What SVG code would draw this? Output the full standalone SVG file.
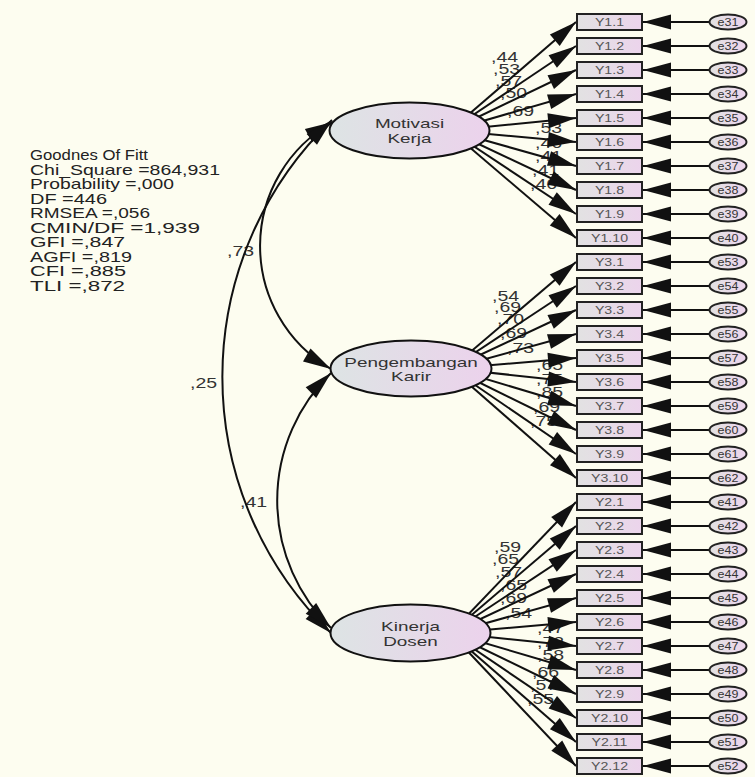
<svg xmlns="http://www.w3.org/2000/svg" width="755" height="777" viewBox="0 0 755 777">
<defs>
<linearGradient id="gBox" x1="0" y1="0" x2="1" y2="0">
<stop offset="0" stop-color="#e2e2e2"/><stop offset="1" stop-color="#ecd4ec"/>
</linearGradient>
<linearGradient id="gLat" x1="0" y1="0" x2="1" y2="0">
<stop offset="0" stop-color="#dde4e4"/><stop offset="1" stop-color="#ecd2ec"/>
</linearGradient>
<marker id="ah" markerUnits="userSpaceOnUse" markerWidth="30" markerHeight="16" refX="28" refY="7.5" orient="auto-start-reverse" overflow="visible">
<path d="M0,0 L28,7.5 L0,15 z" fill="#111"/>
</marker>
<style>
.ln{stroke:#111;stroke-width:2;fill:none;marker-end:url(#ah)}
.arc{stroke:#111;stroke-width:2;fill:none;marker-start:url(#ah);marker-end:url(#ah)}
.box{fill:url(#gBox);stroke:#222;stroke-width:2}
.err{fill:url(#gBox);stroke:#222;stroke-width:2}
.lat{fill:url(#gLat);stroke:#111;stroke-width:2}
text{font-family:'Liberation Sans',Arial,sans-serif}
.bt{font-size:10.5px;fill:#555;text-anchor:middle}
.et{font-size:10px;fill:#333;text-anchor:middle}
.lt{font-size:13.5px;fill:#333;text-anchor:middle}
.lb{font-size:15px;fill:#333}
.gof{font-size:15px;fill:#222}
</style>
</defs>
<rect width="755" height="777" fill="#fdfdf0"/>

<g id="fit-stats">
<text class="gof" x="30" y="160" textLength="118" lengthAdjust="spacingAndGlyphs">Goodnes Of Fitt</text>
<text class="gof" x="30" y="174.5" textLength="190" lengthAdjust="spacingAndGlyphs">Chi_Square =864,931</text>
<text class="gof" x="30" y="189" textLength="144" lengthAdjust="spacingAndGlyphs">Probability =,000</text>
<text class="gof" x="30" y="203.5" textLength="77" lengthAdjust="spacingAndGlyphs">DF =446</text>
<text class="gof" x="30" y="218" textLength="120" lengthAdjust="spacingAndGlyphs">RMSEA =,056</text>
<text class="gof" x="30" y="232.5" textLength="170" lengthAdjust="spacingAndGlyphs">CMIN/DF =1,939</text>
<text class="gof" x="30" y="247" textLength="95" lengthAdjust="spacingAndGlyphs">GFI =,847</text>
<text class="gof" x="30" y="261.5" textLength="102" lengthAdjust="spacingAndGlyphs">AGFI =,819</text>
<text class="gof" x="30" y="276" textLength="96" lengthAdjust="spacingAndGlyphs">CFI =,885</text>
<text class="gof" x="30" y="290.5" textLength="95" lengthAdjust="spacingAndGlyphs">TLI =,872</text>
</g>

<g id="labels">
<text class="lb" transform="translate(227,256) scale(1.3,1)">,73</text>
<text class="lb" transform="translate(190,388) scale(1.3,1)">,25</text>
<text class="lb" transform="translate(240,507) scale(1.3,1)">,41</text>
<text class="lb" transform="translate(491,62) scale(1.3,1)">,44</text>
<text class="lb" transform="translate(493,74) scale(1.3,1)">,53</text>
<text class="lb" transform="translate(495,86) scale(1.3,1)">,57</text>
<text class="lb" transform="translate(500,98) scale(1.3,1)">,50</text>
<text class="lb" transform="translate(507,116) scale(1.3,1)">,69</text>
<text class="lb" transform="translate(535,133) scale(1.3,1)">,53</text>
<text class="lb" transform="translate(535,148) scale(1.3,1)">,46</text>
<text class="lb" transform="translate(535,161) scale(1.3,1)">,41</text>
<text class="lb" transform="translate(532,175) scale(1.3,1)">,41</text>
<text class="lb" transform="translate(530,189) scale(1.3,1)">,46</text>
<text class="lb" transform="translate(492,301) scale(1.3,1)">,54</text>
<text class="lb" transform="translate(494,312) scale(1.3,1)">,69</text>
<text class="lb" transform="translate(497,324) scale(1.3,1)">,70</text>
<text class="lb" transform="translate(500,338) scale(1.3,1)">,69</text>
<text class="lb" transform="translate(507,353) scale(1.3,1)">,73</text>
<text class="lb" transform="translate(536,370) scale(1.3,1)">,65</text>
<text class="lb" transform="translate(536,384) scale(1.3,1)">,75</text>
<text class="lb" transform="translate(536,397) scale(1.3,1)">,85</text>
<text class="lb" transform="translate(533,412) scale(1.3,1)">,69</text>
<text class="lb" transform="translate(530,426) scale(1.3,1)">,75</text>
<text class="lb" transform="translate(494,552) scale(1.3,1)">,59</text>
<text class="lb" transform="translate(492,564) scale(1.3,1)">,65</text>
<text class="lb" transform="translate(495,577) scale(1.3,1)">,57</text>
<text class="lb" transform="translate(500,590) scale(1.3,1)">,65</text>
<text class="lb" transform="translate(500,603) scale(1.3,1)">,69</text>
<text class="lb" transform="translate(505,618) scale(1.3,1)">,54</text>
<text class="lb" transform="translate(537,633) scale(1.3,1)">,47</text>
<text class="lb" transform="translate(537,647) scale(1.3,1)">,72</text>
<text class="lb" transform="translate(537,660) scale(1.3,1)">,58</text>
<text class="lb" transform="translate(532,677) scale(1.3,1)">,66</text>
<text class="lb" transform="translate(530,690) scale(1.3,1)">,57</text>
<text class="lb" transform="translate(527,704) scale(1.3,1)">,55</text>
</g>

<g id="connectors">
<path class="arc" d="M333,122 A142,142 0 0 0 331,369"/>
<path class="arc" d="M332,120 A356,356 0 0 0 331,633"/>
<path class="arc" d="M331,373 A178,178 0 0 0 331,628"/>
<path class="ln" d="M450,130.5 L576,22"/>
<path class="ln" d="M450,130.5 L576,46"/>
<path class="ln" d="M450,130.5 L576,70"/>
<path class="ln" d="M450,130.5 L576,94"/>
<path class="ln" d="M450,130.5 L576,118"/>
<path class="ln" d="M450,130.5 L576,142"/>
<path class="ln" d="M450,130.5 L576,166"/>
<path class="ln" d="M450,130.5 L576,190"/>
<path class="ln" d="M450,130.5 L576,214"/>
<path class="ln" d="M450,130.5 L576,238"/>
<path class="ln" d="M451,368.5 L576,262"/>
<path class="ln" d="M451,368.5 L576,286"/>
<path class="ln" d="M451,368.5 L576,310"/>
<path class="ln" d="M451,368.5 L576,334"/>
<path class="ln" d="M451,368.5 L576,358"/>
<path class="ln" d="M451,368.5 L576,382"/>
<path class="ln" d="M451,368.5 L576,406"/>
<path class="ln" d="M451,368.5 L576,430"/>
<path class="ln" d="M451,368.5 L576,454"/>
<path class="ln" d="M451,368.5 L576,478"/>
<path class="ln" d="M450.5,633 L576,502"/>
<path class="ln" d="M450.5,633 L576,526"/>
<path class="ln" d="M450.5,633 L576,550"/>
<path class="ln" d="M450.5,633 L576,574"/>
<path class="ln" d="M450.5,633 L576,598"/>
<path class="ln" d="M450.5,633 L576,622"/>
<path class="ln" d="M450.5,633 L576,646"/>
<path class="ln" d="M450.5,633 L576,670"/>
<path class="ln" d="M450.5,633 L576,694"/>
<path class="ln" d="M450.5,633 L576,718"/>
<path class="ln" d="M450.5,633 L576,742"/>
<path class="ln" d="M450.5,633 L576,766"/>
<path class="ln" d="M709,22 L643,22"/>
<path class="ln" d="M709,46 L643,46"/>
<path class="ln" d="M709,70 L643,70"/>
<path class="ln" d="M709,94 L643,94"/>
<path class="ln" d="M709,118 L643,118"/>
<path class="ln" d="M709,142 L643,142"/>
<path class="ln" d="M709,166 L643,166"/>
<path class="ln" d="M709,190 L643,190"/>
<path class="ln" d="M709,214 L643,214"/>
<path class="ln" d="M709,238 L643,238"/>
<path class="ln" d="M709,262 L643,262"/>
<path class="ln" d="M709,286 L643,286"/>
<path class="ln" d="M709,310 L643,310"/>
<path class="ln" d="M709,334 L643,334"/>
<path class="ln" d="M709,358 L643,358"/>
<path class="ln" d="M709,382 L643,382"/>
<path class="ln" d="M709,406 L643,406"/>
<path class="ln" d="M709,430 L643,430"/>
<path class="ln" d="M709,454 L643,454"/>
<path class="ln" d="M709,478 L643,478"/>
<path class="ln" d="M709,502 L643,502"/>
<path class="ln" d="M709,526 L643,526"/>
<path class="ln" d="M709,550 L643,550"/>
<path class="ln" d="M709,574 L643,574"/>
<path class="ln" d="M709,598 L643,598"/>
<path class="ln" d="M709,622 L643,622"/>
<path class="ln" d="M709,646 L643,646"/>
<path class="ln" d="M709,670 L643,670"/>
<path class="ln" d="M709,694 L643,694"/>
<path class="ln" d="M709,718 L643,718"/>
<path class="ln" d="M709,742 L643,742"/>
<path class="ln" d="M709,766 L643,766"/>
</g>

<g id="Motivasi_Kerja"><ellipse class="lat" cx="409.5" cy="130.5" rx="80" ry="28"/>
<text class="lt" transform="translate(409.5,128) scale(1.4,1)">Motivasi</text>
<text class="lt" transform="translate(409.5,142.5) scale(1.4,1)">Kerja</text></g>
<g id="Pengembangan_Karir"><ellipse class="lat" cx="411" cy="368.5" rx="80.5" ry="28"/>
<text class="lt" transform="translate(411,366.5) scale(1.4,1)">Pengembangan</text>
<text class="lt" transform="translate(411,381) scale(1.4,1)">Karir</text></g>
<g id="Kinerja_Dosen"><ellipse class="lat" cx="410.5" cy="633" rx="80" ry="28.5"/>
<text class="lt" transform="translate(410.5,631) scale(1.4,1)">Kinerja</text>
<text class="lt" transform="translate(410.5,645.5) scale(1.4,1)">Dosen</text></g>

<g id="Y1_1"><rect class="box" x="577" y="14" width="65" height="16"/><text class="bt" transform="translate(609.5,25.5) scale(1.35,1)">Y1.1</text></g>
<g id="Y1_2"><rect class="box" x="577" y="38" width="65" height="16"/><text class="bt" transform="translate(609.5,49.5) scale(1.35,1)">Y1.2</text></g>
<g id="Y1_3"><rect class="box" x="577" y="62" width="65" height="16"/><text class="bt" transform="translate(609.5,73.5) scale(1.35,1)">Y1.3</text></g>
<g id="Y1_4"><rect class="box" x="577" y="86" width="65" height="16"/><text class="bt" transform="translate(609.5,97.5) scale(1.35,1)">Y1.4</text></g>
<g id="Y1_5"><rect class="box" x="577" y="110" width="65" height="16"/><text class="bt" transform="translate(609.5,121.5) scale(1.35,1)">Y1.5</text></g>
<g id="Y1_6"><rect class="box" x="577" y="134" width="65" height="16"/><text class="bt" transform="translate(609.5,145.5) scale(1.35,1)">Y1.6</text></g>
<g id="Y1_7"><rect class="box" x="577" y="158" width="65" height="16"/><text class="bt" transform="translate(609.5,169.5) scale(1.35,1)">Y1.7</text></g>
<g id="Y1_8"><rect class="box" x="577" y="182" width="65" height="16"/><text class="bt" transform="translate(609.5,193.5) scale(1.35,1)">Y1.8</text></g>
<g id="Y1_9"><rect class="box" x="577" y="206" width="65" height="16"/><text class="bt" transform="translate(609.5,217.5) scale(1.35,1)">Y1.9</text></g>
<g id="Y1_10"><rect class="box" x="577" y="230" width="65" height="16"/><text class="bt" transform="translate(609.5,241.5) scale(1.35,1)">Y1.10</text></g>
<g id="Y3_1"><rect class="box" x="577" y="254" width="65" height="16"/><text class="bt" transform="translate(609.5,265.5) scale(1.35,1)">Y3.1</text></g>
<g id="Y3_2"><rect class="box" x="577" y="278" width="65" height="16"/><text class="bt" transform="translate(609.5,289.5) scale(1.35,1)">Y3.2</text></g>
<g id="Y3_3"><rect class="box" x="577" y="302" width="65" height="16"/><text class="bt" transform="translate(609.5,313.5) scale(1.35,1)">Y3.3</text></g>
<g id="Y3_4"><rect class="box" x="577" y="326" width="65" height="16"/><text class="bt" transform="translate(609.5,337.5) scale(1.35,1)">Y3.4</text></g>
<g id="Y3_5"><rect class="box" x="577" y="350" width="65" height="16"/><text class="bt" transform="translate(609.5,361.5) scale(1.35,1)">Y3.5</text></g>
<g id="Y3_6"><rect class="box" x="577" y="374" width="65" height="16"/><text class="bt" transform="translate(609.5,385.5) scale(1.35,1)">Y3.6</text></g>
<g id="Y3_7"><rect class="box" x="577" y="398" width="65" height="16"/><text class="bt" transform="translate(609.5,409.5) scale(1.35,1)">Y3.7</text></g>
<g id="Y3_8"><rect class="box" x="577" y="422" width="65" height="16"/><text class="bt" transform="translate(609.5,433.5) scale(1.35,1)">Y3.8</text></g>
<g id="Y3_9"><rect class="box" x="577" y="446" width="65" height="16"/><text class="bt" transform="translate(609.5,457.5) scale(1.35,1)">Y3.9</text></g>
<g id="Y3_10"><rect class="box" x="577" y="470" width="65" height="16"/><text class="bt" transform="translate(609.5,481.5) scale(1.35,1)">Y3.10</text></g>
<g id="Y2_1"><rect class="box" x="577" y="494" width="65" height="16"/><text class="bt" transform="translate(609.5,505.5) scale(1.35,1)">Y2.1</text></g>
<g id="Y2_2"><rect class="box" x="577" y="518" width="65" height="16"/><text class="bt" transform="translate(609.5,529.5) scale(1.35,1)">Y2.2</text></g>
<g id="Y2_3"><rect class="box" x="577" y="542" width="65" height="16"/><text class="bt" transform="translate(609.5,553.5) scale(1.35,1)">Y2.3</text></g>
<g id="Y2_4"><rect class="box" x="577" y="566" width="65" height="16"/><text class="bt" transform="translate(609.5,577.5) scale(1.35,1)">Y2.4</text></g>
<g id="Y2_5"><rect class="box" x="577" y="590" width="65" height="16"/><text class="bt" transform="translate(609.5,601.5) scale(1.35,1)">Y2.5</text></g>
<g id="Y2_6"><rect class="box" x="577" y="614" width="65" height="16"/><text class="bt" transform="translate(609.5,625.5) scale(1.35,1)">Y2.6</text></g>
<g id="Y2_7"><rect class="box" x="577" y="638" width="65" height="16"/><text class="bt" transform="translate(609.5,649.5) scale(1.35,1)">Y2.7</text></g>
<g id="Y2_8"><rect class="box" x="577" y="662" width="65" height="16"/><text class="bt" transform="translate(609.5,673.5) scale(1.35,1)">Y2.8</text></g>
<g id="Y2_9"><rect class="box" x="577" y="686" width="65" height="16"/><text class="bt" transform="translate(609.5,697.5) scale(1.35,1)">Y2.9</text></g>
<g id="Y2_10"><rect class="box" x="577" y="710" width="65" height="16"/><text class="bt" transform="translate(609.5,721.5) scale(1.35,1)">Y2.10</text></g>
<g id="Y2_11"><rect class="box" x="577" y="734" width="65" height="16"/><text class="bt" transform="translate(609.5,745.5) scale(1.35,1)">Y2.11</text></g>
<g id="Y2_12"><rect class="box" x="577" y="758" width="65" height="16"/><text class="bt" transform="translate(609.5,769.5) scale(1.35,1)">Y2.12</text></g>

<g id="e31"><ellipse class="err" cx="728" cy="22" rx="18.5" ry="7.5"/><text class="et" transform="translate(728,25.5) scale(1.25,1)">e31</text></g>
<g id="e32"><ellipse class="err" cx="728" cy="46" rx="18.5" ry="7.5"/><text class="et" transform="translate(728,49.5) scale(1.25,1)">e32</text></g>
<g id="e33"><ellipse class="err" cx="728" cy="70" rx="18.5" ry="7.5"/><text class="et" transform="translate(728,73.5) scale(1.25,1)">e33</text></g>
<g id="e34"><ellipse class="err" cx="728" cy="94" rx="18.5" ry="7.5"/><text class="et" transform="translate(728,97.5) scale(1.25,1)">e34</text></g>
<g id="e35"><ellipse class="err" cx="728" cy="118" rx="18.5" ry="7.5"/><text class="et" transform="translate(728,121.5) scale(1.25,1)">e35</text></g>
<g id="e36"><ellipse class="err" cx="728" cy="142" rx="18.5" ry="7.5"/><text class="et" transform="translate(728,145.5) scale(1.25,1)">e36</text></g>
<g id="e37"><ellipse class="err" cx="728" cy="166" rx="18.5" ry="7.5"/><text class="et" transform="translate(728,169.5) scale(1.25,1)">e37</text></g>
<g id="e38"><ellipse class="err" cx="728" cy="190" rx="18.5" ry="7.5"/><text class="et" transform="translate(728,193.5) scale(1.25,1)">e38</text></g>
<g id="e39"><ellipse class="err" cx="728" cy="214" rx="18.5" ry="7.5"/><text class="et" transform="translate(728,217.5) scale(1.25,1)">e39</text></g>
<g id="e40"><ellipse class="err" cx="728" cy="238" rx="18.5" ry="7.5"/><text class="et" transform="translate(728,241.5) scale(1.25,1)">e40</text></g>
<g id="e53"><ellipse class="err" cx="728" cy="262" rx="18.5" ry="7.5"/><text class="et" transform="translate(728,265.5) scale(1.25,1)">e53</text></g>
<g id="e54"><ellipse class="err" cx="728" cy="286" rx="18.5" ry="7.5"/><text class="et" transform="translate(728,289.5) scale(1.25,1)">e54</text></g>
<g id="e55"><ellipse class="err" cx="728" cy="310" rx="18.5" ry="7.5"/><text class="et" transform="translate(728,313.5) scale(1.25,1)">e55</text></g>
<g id="e56"><ellipse class="err" cx="728" cy="334" rx="18.5" ry="7.5"/><text class="et" transform="translate(728,337.5) scale(1.25,1)">e56</text></g>
<g id="e57"><ellipse class="err" cx="728" cy="358" rx="18.5" ry="7.5"/><text class="et" transform="translate(728,361.5) scale(1.25,1)">e57</text></g>
<g id="e58"><ellipse class="err" cx="728" cy="382" rx="18.5" ry="7.5"/><text class="et" transform="translate(728,385.5) scale(1.25,1)">e58</text></g>
<g id="e59"><ellipse class="err" cx="728" cy="406" rx="18.5" ry="7.5"/><text class="et" transform="translate(728,409.5) scale(1.25,1)">e59</text></g>
<g id="e60"><ellipse class="err" cx="728" cy="430" rx="18.5" ry="7.5"/><text class="et" transform="translate(728,433.5) scale(1.25,1)">e60</text></g>
<g id="e61"><ellipse class="err" cx="728" cy="454" rx="18.5" ry="7.5"/><text class="et" transform="translate(728,457.5) scale(1.25,1)">e61</text></g>
<g id="e62"><ellipse class="err" cx="728" cy="478" rx="18.5" ry="7.5"/><text class="et" transform="translate(728,481.5) scale(1.25,1)">e62</text></g>
<g id="e41"><ellipse class="err" cx="728" cy="502" rx="18.5" ry="7.5"/><text class="et" transform="translate(728,505.5) scale(1.25,1)">e41</text></g>
<g id="e42"><ellipse class="err" cx="728" cy="526" rx="18.5" ry="7.5"/><text class="et" transform="translate(728,529.5) scale(1.25,1)">e42</text></g>
<g id="e43"><ellipse class="err" cx="728" cy="550" rx="18.5" ry="7.5"/><text class="et" transform="translate(728,553.5) scale(1.25,1)">e43</text></g>
<g id="e44"><ellipse class="err" cx="728" cy="574" rx="18.5" ry="7.5"/><text class="et" transform="translate(728,577.5) scale(1.25,1)">e44</text></g>
<g id="e45"><ellipse class="err" cx="728" cy="598" rx="18.5" ry="7.5"/><text class="et" transform="translate(728,601.5) scale(1.25,1)">e45</text></g>
<g id="e46"><ellipse class="err" cx="728" cy="622" rx="18.5" ry="7.5"/><text class="et" transform="translate(728,625.5) scale(1.25,1)">e46</text></g>
<g id="e47"><ellipse class="err" cx="728" cy="646" rx="18.5" ry="7.5"/><text class="et" transform="translate(728,649.5) scale(1.25,1)">e47</text></g>
<g id="e48"><ellipse class="err" cx="728" cy="670" rx="18.5" ry="7.5"/><text class="et" transform="translate(728,673.5) scale(1.25,1)">e48</text></g>
<g id="e49"><ellipse class="err" cx="728" cy="694" rx="18.5" ry="7.5"/><text class="et" transform="translate(728,697.5) scale(1.25,1)">e49</text></g>
<g id="e50"><ellipse class="err" cx="728" cy="718" rx="18.5" ry="7.5"/><text class="et" transform="translate(728,721.5) scale(1.25,1)">e50</text></g>
<g id="e51"><ellipse class="err" cx="728" cy="742" rx="18.5" ry="7.5"/><text class="et" transform="translate(728,745.5) scale(1.25,1)">e51</text></g>
<g id="e52"><ellipse class="err" cx="728" cy="766" rx="18.5" ry="7.5"/><text class="et" transform="translate(728,769.5) scale(1.25,1)">e52</text></g>
</svg>
